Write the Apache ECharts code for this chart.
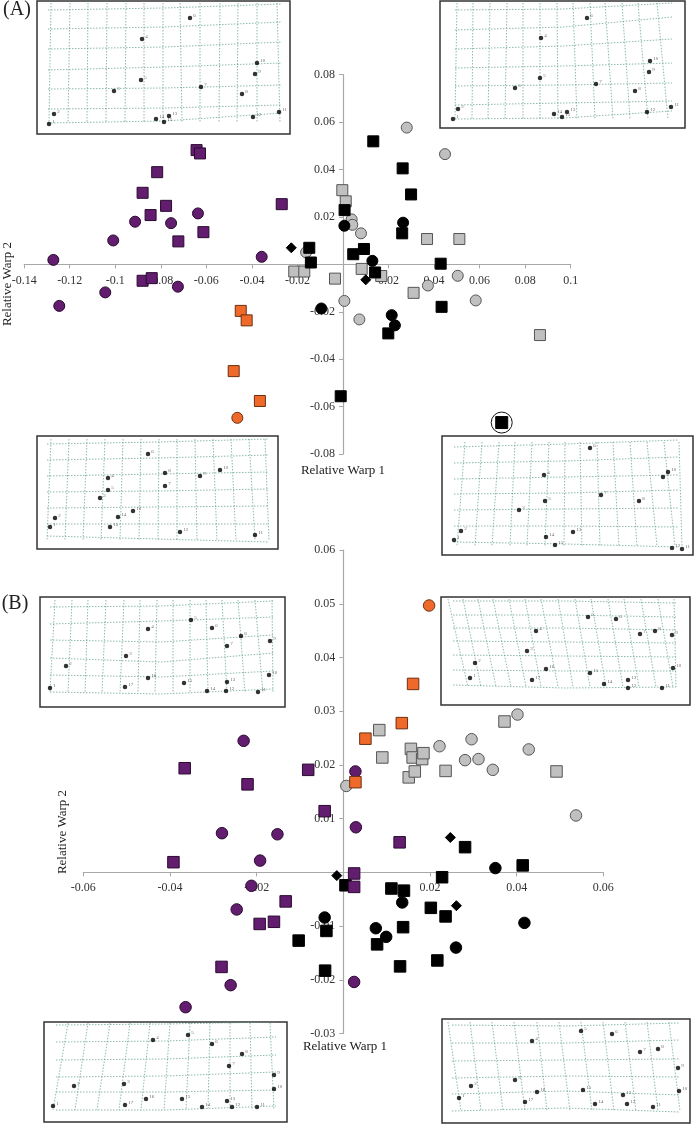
<!DOCTYPE html>
<html>
<head>
<meta charset="utf-8">
<script src="https://cdn.jsdelivr.net/npm/echarts@6/dist/echarts.min.js"></script>
<style>
  html, body { margin: 0; padding: 0; background: #fff; }
  #chart { width: 695px; height: 1124px; }
</style>
</head>
<body>
<div id="chart"></div>
<script>
// ---- panel A scores (RW1, RW2) ----
const aPurpleSquare = [[-0.0643,0.0482],[-0.0628,0.0468],[-0.0816,0.0389],[-0.0880,0.0302],[-0.0777,0.0247],[-0.0845,0.0208],[-0.0613,0.0136],[-0.0723,0.0097],[-0.0269,0.0254],[-0.0880,-0.0069],[-0.0840,-0.0058]];
const aPurpleCircle = [[-0.0913,0.0180],[-0.0755,0.0174],[-0.0637,0.0215],[-0.1009,0.0101],[-0.1272,0.0019],[-0.0357,0.0032],[-0.1044,-0.0118],[-0.0725,-0.0094],[-0.1246,-0.0175]];
const aOrangeSquare = [[-0.0449,-0.0196],[-0.0423,-0.0236],[-0.0480,-0.0450],[-0.0365,-0.0576]];
const aOrangeCircle = [[-0.0464,-0.0647]];
const aBlackSquare = [[-0.0148,0.0070],[-0.0141,0.0008],[0.0133,0.0519],[0.0262,0.0405],[0.0299,0.0295],[0.0007,0.0229],[0.0260,0.0131],[0.0045,0.0043],[0.0092,0.0065],[0.0141,-0.0034],[0.0429,0.0003],[0.0433,-0.0179],[0.0199,-0.0291],[-0.0010,-0.0556]];
const aBlackCircle = [[-0.0095,-0.0186],[0.0006,0.0163],[0.0264,0.0176],[0.0129,0.0015],[0.0214,-0.0214],[0.0228,-0.0257]];
const aBlackDiamond = [[-0.0227,0.0070],[0.0100,-0.0065]];
const aGreyCircle = [[-0.0162,0.0051],[0.0006,-0.0154],[0.0280,0.0577],[0.0448,0.0465],[0.0038,0.0190],[0.0041,0.0167],[0.0079,0.0131],[0.0504,-0.0048],[0.0373,-0.0089],[0.0583,-0.0152],[0.0072,-0.0232]];
const aGreySquare = [[-0.0214,-0.0030],[-0.0170,-0.0030],[-0.0035,-0.0060],[-0.0003,0.0313],[0.0012,0.0266],[0.0369,0.0107],[0.0511,0.0107],[0.0082,-0.0019],[0.0168,-0.0049],[0.0310,-0.0120],[0.0865,-0.0298]];
const aCircled = [[0.0697,-0.0667]];

// ---- panel B scores ----
const bPurpleCircle = [[-0.0230,0.0245],[0.0028,0.0188],[0.0029,0.0084],[-0.0280,0.0073],[-0.0152,0.0071],[-0.0192,0.0022],[-0.0212,-0.0025],[-0.0246,-0.0069],[-0.0260,-0.0210],[0.0025,-0.0204],[-0.0364,-0.0251]];
const bPurpleSquare = [[-0.0366,0.0194],[-0.0221,0.0164],[-0.0081,0.0191],[-0.0043,0.0114],[0.0130,0.0056],[-0.0392,0.0019],[0.0025,-0.0002],[0.0025,-0.0027],[-0.0133,-0.0054],[-0.0193,-0.0096],[-0.0160,-0.0092],[-0.0281,-0.0176]];
const bOrangeSquare = [[0.0028,0.0168],[0.0161,0.0351],[0.0135,0.0278],[0.0051,0.0249]];
const bOrangeCircle = [[0.0198,0.0497]];
const bGreySquare = [[0.0083,0.0265],[0.0090,0.0214],[0.0156,0.0230],[0.0160,0.0214],[0.0182,0.0211],[0.0185,0.0222],[0.0151,0.0177],[0.0165,0.0188],[0.0236,0.0189],[0.0372,0.0281],[0.0492,0.0188]];
const bGreyCircle = [[0.0007,0.0161],[0.0222,0.0235],[0.0296,0.0248],[0.0281,0.0209],[0.0312,0.0211],[0.0345,0.0191],[0.0402,0.0294],[0.0428,0.0229],[0.0537,0.0106]];
const bBlackDiamond = [[0.0247,0.0065],[-0.0015,-0.0006],[0.0261,-0.0062]];
const bBlackSquare = [[0.0281,0.0047],[0.0414,0.0013],[0.0228,-0.0009],[0.0005,-0.0024],[0.0111,-0.0030],[0.0140,-0.0034],[0.0202,-0.0066],[0.0236,-0.0082],[-0.0039,-0.0109],[0.0138,-0.0102],[-0.0103,-0.0127],[0.0078,-0.0134],[0.0217,-0.0164],[0.0131,-0.0175],[-0.0042,-0.0183]];
const bBlackCircle = [[0.0351,0.0008],[0.0136,-0.0056],[-0.0043,-0.0084],[0.0418,-0.0094],[0.0075,-0.0104],[0.0099,-0.0120],[0.0260,-0.0140]];

// ---- deformation grid insets (landmarks numbered 1..n, local box units) ----
const atlMarks = [[12,123],[17,113],[77,90],[105,38],[104,79],[153,17],[164,86],[205,93],[218,73],[220,62],[242,111],[216,116],[132,115],[119,118],[127,121]];
const atlRows = [[9,7,3],[28,26,21],[48,46,41],[69,66,62],[88,87,84],[108,107,104],[122,120,112]];
const atlCols = [[14,12],[33,31],[51,50],[70,69],[89,88],[107,107],[126,126],[143,145],[163,163],[183,182],[201,200],[220,220],[240,243]];
const atlHSpan = [11, 245], atlVSpan = [2, 122];

const atrMarks = [[13,118],[18,108],[75,87],[101,37],[100,77],[147,17],[156,83],[195,90],[209,71],[210,60],[231,106],[207,111],[127,111],[114,113],[122,116]];
const atrRows = [[9,8,2],[29,26,16],[48,45,38],[67,65,62],[85,84,82],[104,102,100],[118,117,110]];
const atrCols = [[17,15],[33,32],[50,48],[67,65],[83,83],[100,100],[117,118],[133,137],[150,155],[165,173],[182,190],[198,208],[217,228]];
const atrHSpan = [15, 232], atrVSpan = [2, 118];

const ablMarks = [[13,91],[18,82],[63,62],[71,42],[71,54],[111,18],[128,50],[128,37],[163,40],[183,34],[218,99],[143,96],[96,75],[81,81],[73,91]];
const ablRows = [[8,6,3],[24,22,19],[40,38,36],[56,55,53],[72,71,70],[88,88,88],[100,103,106]];
const ablCols = [[14,10],[32,28],[50,46],[68,64],[86,83],[104,102],[122,121],[140,140],[158,160],[176,180],[194,199],[212,218],[228,232]];
const ablHSpan = [10, 232], ablVSpan = [3, 104];

const abrMarks = [[12,104],[19,95],[77,74],[102,39],[103,65],[148,12],[159,59],[197,65],[221,41],[226,36],[240,113],[230,112],[131,96],[104,101],[113,109]];
const abrRows = [[11,8,4],[27,25,21],[43,41,39],[58,57,54],[74,73,72],[90,90,91],[106,108,111]];
const abrCols = [[23,15],[40,33],[57,50],[73,68],[90,85],[107,103],[123,122],[138,140],[155,158],[171,177],[188,195],[205,215],[222,233],[237,240]];
const abrHSpan = [12, 236], abrVSpan = [6, 110];

const btlMarks = [[10,91],[26,69],[86,59],[108,32],[151,23],[172,31],[187,49],[201,39],[230,44],[229,78],[218,95],[186,94],[187,85],[167,94],[144,86],[108,81],[85,90]];
const btlRows = [[10,9,4],[27,24,20],[43,45,38],[61,65,56],[78,80,74],[95,97,92]];
const btlCols = [[15,10],[32,28],[48,45],[66,62],[84,80],[100,98],[117,115],[133,133],[150,150],[166,168],[182,187],[198,205],[215,223],[232,233]];
const btlHSpan = [10, 233], btlVSpan = [3, 96];

const btrMarks = [[29,81],[34,66],[86,54],[95,34],[147,20],[175,22],[199,37],[214,34],[231,38],[232,71],[221,91],[187,91],[187,83],[163,87],[149,76],[105,72],[91,83]];
const btrRows = [[4,4,6],[18,18,20],[31,31,33],[44,45,46],[58,59,60],[73,74,74],[88,91,90]];
const btrCols = [[7,27],[22,40],[37,55],[52,70],[68,85],[84,100],[100,117],[117,132],[134,149],[150,165],[167,182],[183,198],[200,215],[217,232],[233,235]];
const btrHSpan = [12, 235], btrVSpan = [2, 90];

const bblMarks = [[9,84],[30,64],[80,62],[109,18],[144,13],[168,22],[185,44],[198,32],[230,53],[230,67],[213,85],[188,85],[183,79],[158,85],[138,77],[102,77],[81,83]];
const bblRows = [[3,2,0],[20,19,15],[38,37,33],[55,54,50],[70,70,68],[88,88,84]];
const bblCols = [[24,9],[44,31],[66,53],[86,75],[106,97],[126,120],[146,142],[166,164],[186,186],[206,208],[226,230]];
const bblHSpan = [12, 232], bblVSpan = [1, 88];

const bbrMarks = [[17,79],[29,67],[73,61],[90,22],[139,12],[170,15],[198,33],[216,30],[236,49],[237,72],[211,88],[185,85],[181,76],[153,85],[141,71],[95,73],[83,83]];
const bbrRows = [[6,7,4],[24,24,21],[42,41,40],[59,57,58],[75,72,76],[92,89,93]];
const bbrCols = [[6,19],[28,39],[50,61],[72,83],[95,105],[117,128],[139,150],[161,172],[183,194],[205,216],[227,238]];
const bbrHSpan = [10, 238], bbrVSpan = [3, 92];

const FONT = '"Liberation Serif", "Times New Roman", serif';
const PURPLE = '#621d6e', ORANGE = '#ef6a2a', GREY = '#c0c0c0';

const grids = [], xAxes = [], yAxes = [], series = [];

const tickFmt = (v) => (Math.abs(v) < 1e-9 ? '' : String(+v.toFixed(2)));

// main scatter panel; the axes cross at (0, 0), so shift them from the grid edges
function addMain(rect, xr, yr, xInt, yInt, xMargin) {
  const i = grids.length;
  grids.push(Object.assign({ show: false }, rect));
  const xOff = -(0 - yr[0]) / (yr[1] - yr[0]) * rect.height;
  const yOff = -(0 - xr[0]) / (xr[1] - xr[0]) * rect.width;
  const line = { onZero: false, lineStyle: { color: '#a8a8a8', width: 1.2 } };
  const tick = { show: true, length: 4, lineStyle: { color: '#a8a8a8' } };
  const label = { color: '#333', fontFamily: FONT, fontSize: 12, formatter: tickFmt };
  xAxes.push({ gridIndex: i, type: 'value', position: 'bottom', offset: xOff,
    min: xr[0], max: xr[1], interval: xInt,
    axisLine: line, axisTick: tick, splitLine: { show: false },
    axisLabel: Object.assign({ margin: xMargin }, label) });
  yAxes.push({ gridIndex: i, type: 'value', position: 'left', offset: yOff,
    min: yr[0], max: yr[1], interval: yInt,
    axisLine: line, axisTick: tick, splitLine: { show: false },
    axisLabel: Object.assign({ margin: 8 }, label) });
  return i;
}

function scat(gi, data, symbol, size, color, border, z) {
  series.push({ type: 'scatter', xAxisIndex: gi, yAxisIndex: gi, data: data, symbol: symbol,
    symbolSize: size, silent: true, z: z || 3,
    itemStyle: { color: color, borderColor: border, borderWidth: 1, opacity: 1 } });
}

function addInset(rect, marks, rows, cols, hSpan, vSpan) {
  const i = grids.length;
  grids.push(Object.assign({ show: true, borderColor: '#333', borderWidth: 1.5, backgroundColor: '#fff' }, rect));
  xAxes.push({ gridIndex: i, type: 'value', min: 0, max: rect.width, show: false });
  yAxes.push({ gridIndex: i, type: 'value', min: 0, max: rect.height, inverse: true, show: false });
  const mid = (hSpan[0] + hSpan[1]) / 2;
  const lines = rows.map(r => ({ coords: [[hSpan[0], r[0]], [mid, r[1]], [hSpan[1], r[2]]] }))
    .concat(cols.map(c => ({ coords: [[c[0], vSpan[0]], [c[1], vSpan[1]]] })));
  series.push({ type: 'lines', coordinateSystem: 'cartesian2d', xAxisIndex: i, yAxisIndex: i,
    polyline: true, silent: true, data: lines, z: 2,
    lineStyle: { color: '#5f9f8c', width: 0.8, type: [1.5, 1.5], opacity: 0.9 } });
  series.push({ type: 'scatter', xAxisIndex: i, yAxisIndex: i, silent: true, z: 3,
    data: marks.map((m, k) => ({ value: m, name: String(k + 1) })),
    symbolSize: 4.5, itemStyle: { color: '#000' },
    label: { show: true, formatter: '{b}', position: 'right', distance: 1, offset: [0, -2],
      fontSize: 5, color: '#444', fontFamily: FONT } });
}

// panel A
const ga = addMain({ left: 24.2, top: 74.7, width: 546.5, height: 379.4 }, [-0.14, 0.1], [-0.08, 0.08], 0.02, 0.02, 10);
scat(ga, aGreySquare, 'rect', 11, GREY, '#555');
scat(ga, aGreyCircle, 'circle', 11, GREY, '#555');
scat(ga, aBlackSquare, 'rect', 11, '#000', '#000', 4);
scat(ga, aBlackCircle, 'circle', 11, '#000', '#000', 4);
scat(ga, aBlackDiamond, 'diamond', 10, '#000', '#000', 4);
scat(ga, aPurpleSquare, 'rect', 11, PURPLE, '#2a0a30', 4);
scat(ga, aPurpleCircle, 'circle', 11, PURPLE, '#2a0a30', 4);
scat(ga, aOrangeSquare, 'rect', 11, ORANGE, '#6b3010', 4);
scat(ga, aOrangeCircle, 'circle', 11, ORANGE, '#6b3010', 4);
scat(ga, aCircled, 'circle', 21, 'rgba(255,255,255,0)', '#111', 4);
scat(ga, aCircled, 'rect', 12, '#000', '#000', 5);

// panel B
const gb = addMain({ left: 83.3, top: 550.2, width: 520, height: 483.3 }, [-0.06, 0.06], [-0.03, 0.06], 0.02, 0.01, 9);
scat(gb, bGreySquare, 'rect', 11.5, GREY, '#555');
scat(gb, bGreyCircle, 'circle', 11.5, GREY, '#555');
scat(gb, bBlackSquare, 'rect', 11.5, '#000', '#000', 4);
scat(gb, bBlackCircle, 'circle', 11.5, '#000', '#000', 4);
scat(gb, bBlackDiamond, 'diamond', 10, '#000', '#000', 4);
scat(gb, bPurpleSquare, 'rect', 11.5, PURPLE, '#2a0a30', 4);
scat(gb, bPurpleCircle, 'circle', 11.5, PURPLE, '#2a0a30', 4);
scat(gb, bOrangeSquare, 'rect', 11.5, ORANGE, '#6b3010', 4);
scat(gb, bOrangeCircle, 'circle', 11.5, ORANGE, '#6b3010', 4);

// insets
addInset({ left: 37, top: 1, width: 253, height: 133 }, atlMarks, atlRows, atlCols, atlHSpan, atlVSpan);
addInset({ left: 440, top: 1, width: 245, height: 127 }, atrMarks, atrRows, atrCols, atrHSpan, atrVSpan);
addInset({ left: 37, top: 436, width: 241, height: 113 }, ablMarks, ablRows, ablCols, ablHSpan, ablVSpan);
addInset({ left: 442, top: 436, width: 251, height: 119 }, abrMarks, abrRows, abrCols, abrHSpan, abrVSpan);
addInset({ left: 40, top: 597, width: 245, height: 110 }, btlMarks, btlRows, btlCols, btlHSpan, btlVSpan);
addInset({ left: 441, top: 597, width: 249, height: 108 }, btrMarks, btrRows, btrCols, btrHSpan, btrVSpan);
addInset({ left: 44, top: 1022, width: 243, height: 100 }, bblMarks, bblRows, bblCols, bblHSpan, bblVSpan);
addInset({ left: 442, top: 1019, width: 248, height: 104 }, bbrMarks, bbrRows, bbrCols, bbrHSpan, bbrVSpan);

function txt(text, x, y, size, rot) {
  return { type: 'text', x: x, y: y, rotation: rot || 0, silent: true, z: 10,
    style: { text: text, font: size + 'px ' + FONT, fill: '#222',
      align: 'center', verticalAlign: 'middle', textAlign: 'center', textVerticalAlign: 'middle' } };
}

const chart = echarts.init(document.getElementById('chart'));
chart.setOption({
  animation: false,
  backgroundColor: '#fff',
  grid: grids,
  xAxis: xAxes,
  yAxis: yAxes,
  series: series,
  graphic: [
    txt('(A)', 17, 10, 20),
    txt('(B)', 15, 604, 20),
    txt('Relative Warp 1', 343, 471, 13),
    txt('Relative Warp 2', 8, 284, 13, Math.PI / 2),
    txt('Relative Warp 1', 345, 1047, 13),
    txt('Relative Warp 2', 63, 832, 13, Math.PI / 2)
  ]
});
</script>
</body>
</html>
